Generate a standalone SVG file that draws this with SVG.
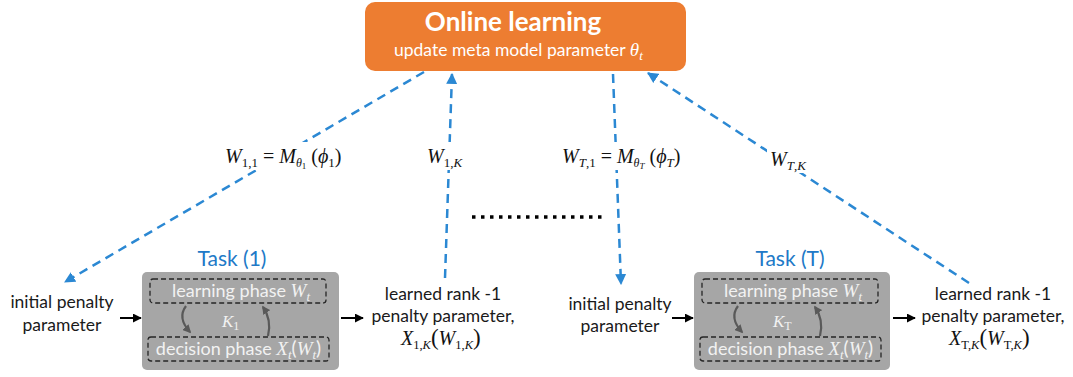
<svg xmlns="http://www.w3.org/2000/svg" width="1073" height="377" viewBox="0 0 1073 377">
<style>
.lbl{font-family:Lato,"Noto Sans",sans-serif;font-size:17.5px;fill:#1a1a1a;text-anchor:middle}
.task{font-family:Lato,"Noto Sans",sans-serif;font-size:21px;fill:#2179C7;text-anchor:middle}
.in{font-family:Lato,"Noto Sans",sans-serif;font-size:18px;fill:#F2F2F2;text-anchor:middle}
.m{font-family:"Liberation Serif","DejaVu Serif",serif;font-style:italic}
.math{font-family:"Liberation Serif","DejaVu Serif",serif;font-size:20px;fill:#111}
.blue{stroke:#2B88D3;stroke-width:2.5;stroke-dasharray:9 6;fill:none}
.blk{stroke:#000;stroke-width:2;fill:none}
.gbox{fill:#A6A6A6}
.dbox{fill:none;stroke:#262626;stroke-width:1.3;stroke-dasharray:5 3}
.carr{stroke:#595959;stroke-width:2.2;fill:none}
</style>
<defs>
<marker id="ab" viewBox="0 0 10 10" refX="9" refY="5" markerWidth="4.4" markerHeight="4.4" orient="auto" markerUnits="strokeWidth"><path d="M0,0 L10,5 L0,10 z" fill="#2B88D3"/></marker>
<marker id="ak" viewBox="0 0 10 10" refX="9" refY="5" markerWidth="4.5" markerHeight="4.5" orient="auto" markerUnits="strokeWidth"><path d="M0,0 L10,5 L0,10 z" fill="#000"/></marker>
<marker id="ag" viewBox="0 0 10 10" refX="8" refY="5" markerWidth="3.8" markerHeight="3.8" orient="auto" markerUnits="strokeWidth"><path d="M0,0 L10,5 L0,10 z" fill="#595959"/></marker>
</defs>
<rect width="1073" height="377" fill="#fff"/>

<g id="online">
<rect x="365" y="2" width="321" height="69" rx="10" fill="#ED7D31"/>
<text x="513" y="31" font-family="Lato,'Noto Sans',sans-serif" font-size="26" font-weight="bold" fill="#fff" text-anchor="middle">Online learning</text>
<text x="394" y="56" font-family="Lato,'Noto Sans',sans-serif" font-size="17.5" fill="#fff">update meta model parameter <tspan class="m" font-size="19">θ</tspan><tspan class="m" font-size="13" dy="4">t</tspan></text>
</g>

<g id="connectors">
<line class="blue" x1="424" y1="72" x2="65" y2="282" marker-end="url(#ab)"/>
<line class="blue" x1="445" y1="278" x2="452" y2="74" marker-end="url(#ab)"/>
<line class="blue" x1="613" y1="74" x2="621" y2="284" marker-end="url(#ab)"/>
<line class="blue" x1="969" y1="283" x2="648" y2="73" marker-end="url(#ab)"/>
<line stroke="#000" stroke-width="3.5" stroke-dasharray="3.5 5.5" x1="472" y1="217" x2="602" y2="217"/>
<line class="blk" x1="120" y1="318" x2="141" y2="318" marker-end="url(#ak)"/>
<line class="blk" x1="341" y1="318" x2="363" y2="318" marker-end="url(#ak)"/>
<line class="blk" x1="672" y1="318" x2="693" y2="318" marker-end="url(#ak)"/>
<line class="blk" x1="893" y1="318" x2="915" y2="318" marker-end="url(#ak)"/>
</g>

<g id="label-w11">
<rect x="222" y="142" width="138" height="28" fill="#fff"/>
<text class="math" x="225" y="163"><tspan class="m">W</tspan><tspan font-size="13" dy="4">1,1</tspan><tspan dy="-4"> = </tspan><tspan class="m">M</tspan><tspan class="m" font-size="12" dy="4">θ</tspan><tspan font-size="9" dy="2">1</tspan><tspan dy="-6"> (</tspan><tspan class="m">ϕ</tspan><tspan font-size="13" dy="4">1</tspan><tspan dy="-4">)</tspan></text>
</g>
<g id="label-w1k">
<rect x="425" y="142" width="45" height="28" fill="#fff"/>
<text class="math" x="427" y="163"><tspan class="m">W</tspan><tspan font-size="13" dy="4">1,</tspan><tspan class="m" font-size="13">K</tspan></text>
</g>
<g id="label-wt1">
<rect x="560" y="142" width="146" height="28" fill="#fff"/>
<text class="math" x="562" y="163"><tspan class="m">W</tspan><tspan class="m" font-size="13" dy="4">T</tspan><tspan font-size="13">,1</tspan><tspan dy="-4"> = </tspan><tspan class="m">M</tspan><tspan class="m" font-size="12" dy="4">θ</tspan><tspan class="m" font-size="9" dy="2">T</tspan><tspan dy="-6"> (</tspan><tspan class="m">ϕ</tspan><tspan class="m" font-size="13" dy="4">T</tspan><tspan dy="-4">)</tspan></text>
</g>
<g id="label-wtk">
<rect x="767" y="147" width="50" height="26" fill="#fff"/>
<text class="math" x="770" y="166"><tspan class="m">W</tspan><tspan class="m" font-size="13" dy="4">T</tspan><tspan font-size="13">,</tspan><tspan class="m" font-size="13">K</tspan></text>
</g>

<g id="init-1">
<text class="lbl" x="62" y="308">initial penalty</text>
<text class="lbl" x="62" y="331">parameter</text>
</g>

<g id="task-1">
<text class="task" x="232" y="266">Task (1)</text>
<rect class="gbox" x="142" y="272" width="197" height="98" rx="5"/>
<rect class="dbox" x="150" y="279" width="176" height="24" rx="3"/>
<rect class="dbox" x="148" y="337" width="181" height="24" rx="3"/>
<text class="in" x="241" y="296.5">learning phase <tspan class="m" font-size="19">W</tspan><tspan class="m" font-size="13" dy="4">t</tspan></text>
<text class="in" x="238.5" y="354.5">decision phase <tspan class="m" font-size="19">X</tspan><tspan class="m" font-size="13" dy="4">t</tspan><tspan font-size="19" dy="-4">(</tspan><tspan class="m" font-size="19">W</tspan><tspan class="m" font-size="13" dy="4">t</tspan><tspan font-size="19" dy="-4">)</tspan></text>
<text x="222" y="327" font-family="'Liberation Serif',serif" font-style="italic" font-size="17" fill="#F2F2F2">K<tspan font-style="normal" font-size="12" dy="3">1</tspan></text>
<path class="carr" d="M186,306 Q177,318 190,332" marker-end="url(#ag)"/>
<path class="carr" d="M268,336 Q272,320 263,307" marker-end="url(#ag)"/>
</g>

<g id="learned-1">
<text class="lbl" x="443" y="300">learned rank -1</text>
<text class="lbl" x="443" y="322">penalty parameter,</text>
<text class="math" x="401" y="345" font-size="19"><tspan class="m">X</tspan><tspan font-size="12.5" dy="4">1,</tspan><tspan class="m" font-size="12.5">K</tspan><tspan dy="-4" font-size="23">(</tspan><tspan class="m">W</tspan><tspan font-size="12.5" dy="4">1,</tspan><tspan class="m" font-size="12.5">K</tspan><tspan dy="-4" font-size="23">)</tspan></text>
</g>

<g id="init-T">
<text class="lbl" x="620" y="310">initial penalty</text>
<text class="lbl" x="620" y="332">parameter</text>
</g>

<g id="task-T">
<text class="task" x="790" y="266">Task (T)</text>
<rect class="gbox" x="694" y="272" width="196" height="98" rx="5"/>
<rect class="dbox" x="702" y="279" width="176" height="24" rx="3"/>
<rect class="dbox" x="700" y="337" width="181" height="24" rx="3"/>
<text class="in" x="793" y="296.5">learning phase <tspan class="m" font-size="19">W</tspan><tspan class="m" font-size="13" dy="4">t</tspan></text>
<text class="in" x="790.5" y="354.5">decision phase <tspan class="m" font-size="19">X</tspan><tspan class="m" font-size="13" dy="4">t</tspan><tspan font-size="19" dy="-4">(</tspan><tspan class="m" font-size="19">W</tspan><tspan class="m" font-size="13" dy="4">t</tspan><tspan font-size="19" dy="-4">)</tspan></text>
<text x="773" y="327" font-family="'Liberation Serif',serif" font-style="italic" font-size="17" fill="#F2F2F2">K<tspan font-style="normal" font-size="12" dy="3">T</tspan></text>
<path class="carr" d="M738,306 Q729,318 742,332" marker-end="url(#ag)"/>
<path class="carr" d="M820,336 Q824,320 815,307" marker-end="url(#ag)"/>
</g>

<g id="learned-T">
<text class="lbl" x="993" y="300">learned rank -1</text>
<text class="lbl" x="993" y="322">penalty parameter,</text>
<text class="math" x="949" y="345" font-size="19"><tspan class="m">X</tspan><tspan font-size="12.5" dy="4">T,</tspan><tspan class="m" font-size="12.5">K</tspan><tspan dy="-4" font-size="23">(</tspan><tspan class="m">W</tspan><tspan font-size="12.5" dy="4">T,</tspan><tspan class="m" font-size="12.5">K</tspan><tspan dy="-4" font-size="23">)</tspan></text>
</g>
</svg>
